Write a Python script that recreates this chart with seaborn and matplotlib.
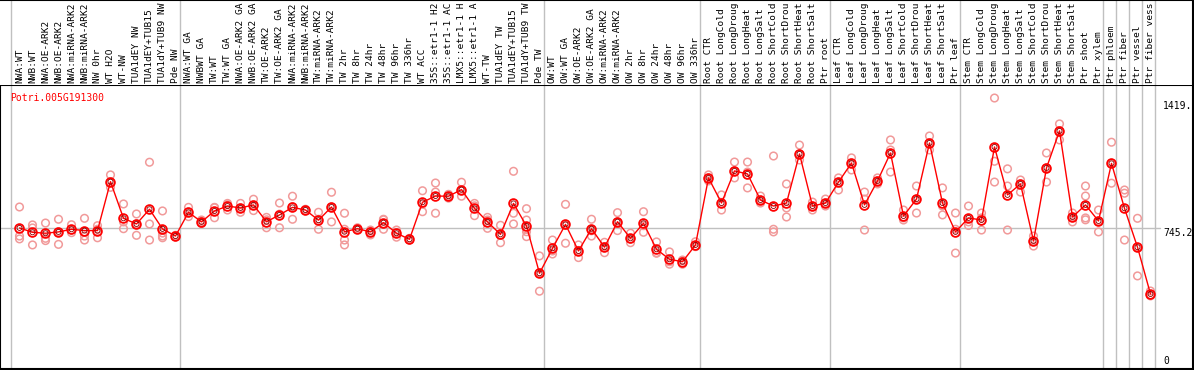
import numpy as np
import pandas as pd
import matplotlib
matplotlib.use("Agg")
import matplotlib.pyplot as plt
import seaborn as sns

gene = "Potri.005G191300"

labels = [
    "NWA:WT", "NWB:WT", "NWA:OE-ARK2", "NWB:OE-ARK2", "NWA:miRNA-ARK2", "NWB:miRNA-ARK2",
    "NW 0hr", "WT H2O", "WT-NW", "TUA1dEY NW", "TUA1dEY+TUB15", "TUA1dY+TUB9 NW", "Pde NW",
    "NWA:WT GA", "NWBWT GA", "TW:WT", "TW:WT GA", "NWA:OE-ARK2 GA", "NWB:OE-ARK2 GA",
    "TW:OE-ARK2", "TW:OE-ARK2 GA", "NWA:miRNA-ARK2", "NWB:miRNA-ARK2", "TW:miRNA-ARK2",
    "TW:miRNA-ARK2", "TW 2hr", "TW 8hr", "TW 24hr", "TW 48hr", "TW 96hr", "TW 336hr",
    "WT ACC", "35S::etr1-1 H2", "35S::etr1-1 AC", "LMX5::etr1-1 H", "LMX5::etr1-1 A",
    "WT-TW", "TUA1dEY TW", "TUA1dEY+TUB15", "TUA1dY+TUB9 TW", "Pde TW",
    "OW:WT", "OW:WT GA", "OW:OE-ARK2", "OW:OE-ARK2 GA", "OW:miRNA-ARK2", "OW:miRNA-ARK2",
    "OW 2hr", "OW 8hr", "OW 24hr", "OW 48hr", "OW 96hr", "OW 336hr",
    "Root CTR", "Root LongCold", "Root LongDroug", "Root LongHeat", "Root LongSalt",
    "Root ShortCold", "Root ShortDrou", "Root ShortHeat", "Root ShortSalt", "Ptr root",
    "Leaf CTR", "Leaf LongCold", "Leaf LongDroug", "Leaf LongHeat", "Leaf LongSalt",
    "Leaf ShortCold", "Leaf ShortDrou", "Leaf ShortHeat", "Leaf ShortSalt", "Ptr leaf",
    "Stem CTR", "Stem LongCold", "Stem LongDroug", "Stem LongHeat", "Stem LongSalt",
    "Stem ShortCold", "Stem ShortDrou", "Stem ShortHeat", "Stem ShortSalt", "Ptr shoot",
    "Ptr xylem", "Ptr phloem", "Ptr fiber", "Ptr vessel", "Ptr fiber vess",
]

means = [
    747, 724, 719, 726, 740, 733, 733, 992, 798, 768, 846, 742, 704,
    830, 779, 837, 863, 853, 869, 780, 816, 856, 842, 788, 858, 727, 743, 726, 775,
    719, 687, 883, 916, 915, 950, 851, 779, 713, 877, 757, 507,
    639, 766, 625, 743, 645, 780, 692, 772, 634, 581, 568, 657,
    1012, 879, 1049, 1033, 895, 863, 879, 1139, 863, 879,
    990, 1091, 869, 996, 1144, 810, 900, 1197, 879, 726,
    800, 789, 1176, 922, 980, 678, 1065, 1261, 805, 869, 784,
    1089, 851, 645, 397,
]

reps = [
    [858, 704, 689], [763, 747, 657], [773, 692, 680], [793, 726, 660],
    [764, 736, 722], [798, 704, 683], [759, 740, 695], [1028, 990, 962],
    [874, 779, 743], [821, 768, 708], [1095, 768, 683], [837, 720, 704, 695],
    [708, 704, 700],
    [856, 831, 807], [789, 779, 770], [856, 854, 801], [877, 870, 842],
    [877, 853, 830], [899, 869, 839], [803, 790, 748], [879, 820, 748],
    [915, 860, 793], [846, 842, 838], [830, 793, 740], [936, 858, 779],
    [825, 740, 683, 657], [748, 743, 740], [736, 730, 710], [793, 790, 740],
    [736, 722, 698], [692, 687, 683], [944, 873, 833], [985, 937, 825],
    [925, 915, 905], [989, 946, 915], [877, 864, 812], [803, 789, 745],
    [761, 709, 669], [1047, 825, 768], [849, 789, 740, 727, 701], [599, 510, 412],
    [683, 625, 609], [872, 760, 666], [657, 628, 590], [793, 732, 704],
    [671, 648, 616], [828, 779, 733], [719, 688, 669], [833, 759, 724],
    [673, 613, 616], [620, 568, 555], [577, 572, 555], [674, 650, 648],
    [1028, 1012, 996], [922, 879, 842], [1096, 1049, 1012], [1096, 1043, 959],
    [916, 895, 879], [1128, 740, 726], [980, 853, 805], [1186, 1139, 1107],
    [884, 863, 842], [900, 879, 863],
    [1012, 990, 948], [1118, 1091, 1054], [937, 900, 736], [1012, 996, 980],
    [1213, 1160, 1043], [842, 800, 789], [969, 900, 826], [1234, 1197, 1160],
    [959, 863, 816], [826, 740, 614],
    [863, 779, 760], [826, 800, 736], [1435, 1100, 990], [1060, 969, 736],
    [1001, 980, 937], [704, 678, 651], [1144, 1065, 990], [1298, 1261, 1213],
    [826, 805, 779], [969, 916, 800, 790], [842, 784, 726],
    [1201, 1089, 984], [948, 931, 683], [798, 645, 493], [413, 392, 387],
]

group_starts = [0, 13, 41, 53, 63, 73, 84, 85, 86, 87, 88]
ytick_vals = [0, 745.2, 1419.5]
ytick_text = ["0", "745.2", "1419."]


def draw_chart(out_file):
    sns.set_style("white")
    plt.rcParams["font.family"] = ["DejaVu Sans Mono"]

    W, H = 1194.0, 370.0
    fig = plt.figure(figsize=(W / 100, H / 100), dpi=100)
    ax = fig.add_axes([0, 1 / H, 1193 / W, 284 / H])
    hx = fig.add_axes([0, 285 / H, 1193 / W, 85 / H])

    pos = np.arange(len(labels))
    xlim = (-19.5 / 13, (1193 - 19.5) / 13)
    grid_col = "#c0c0c0"

    # header with sample names
    hx.set_xlim(*xlim)
    hx.set_ylim(0, 85)
    hx.set_xticks([])
    hx.set_yticks([])
    for side in ["left", "bottom"]:
        hx.spines[side].set_visible(False)
    for side in ["top", "right"]:
        hx.spines[side].set_color("black")
        hx.spines[side].set_linewidth(1.5)
    for b in group_starts:
        hx.axvline(b - 0.65, color=grid_col, lw=1)
    for i, lab in enumerate(labels):
        hx.text(i, 2, lab, rotation=90, ha="center", va="bottom",
                fontsize=6.8, color="black")

    # plot area
    rep_df = pd.DataFrame(
        [(i, v) for i, vals in enumerate(reps) for v in vals],
        columns=["pos", "value"],
    )
    for b in group_starts:
        ax.axvline(b - 0.65, color=grid_col, lw=1, zorder=1)
    ax.axhline(745.2, xmax=1160 / 1193, color=grid_col, lw=1, zorder=1)

    sns.scatterplot(data=rep_df, x="pos", y="value", s=30, marker="o",
                    facecolors="none", edgecolors="#f19a9a", linewidth=1.1,
                    ax=ax, zorder=2, legend=False)
    sns.lineplot(x=pos, y=means, color="red", lw=1, marker="o", markersize=6.3,
                 markerfacecolor="none", markeredgecolor="red",
                 markeredgewidth=1.3, ax=ax, zorder=3)
    sns.scatterplot(x=pos, y=means, s=13, marker="o", facecolors="none",
                    edgecolors="#8a0000", linewidth=0.6, ax=ax, zorder=4,
                    legend=False)

    ax.set_xlim(*xlim)
    ax.set_ylim(0, 1504)
    ax.set_xticks([])
    ax.set_yticks([])
    ax.set_xlabel("")
    ax.set_ylabel("")
    for side in ax.spines.values():
        side.set_color("black")
        side.set_linewidth(1.5)

    ax.text(10 / 1193, 0.972, gene, transform=ax.transAxes, color="red",
            fontsize=7, ha="left", va="top")
    for v, t in zip(ytick_vals, ytick_text):
        ax.text(1163 / 1193, v if v > 0 else 16, t,
                transform=ax.get_yaxis_transform(), fontsize=7,
                ha="left", va="top" if v > 0 else "bottom", color="black")

    fig.savefig(out_file, dpi=100)


if __name__ == "__main__":
    draw_chart("out.png")
